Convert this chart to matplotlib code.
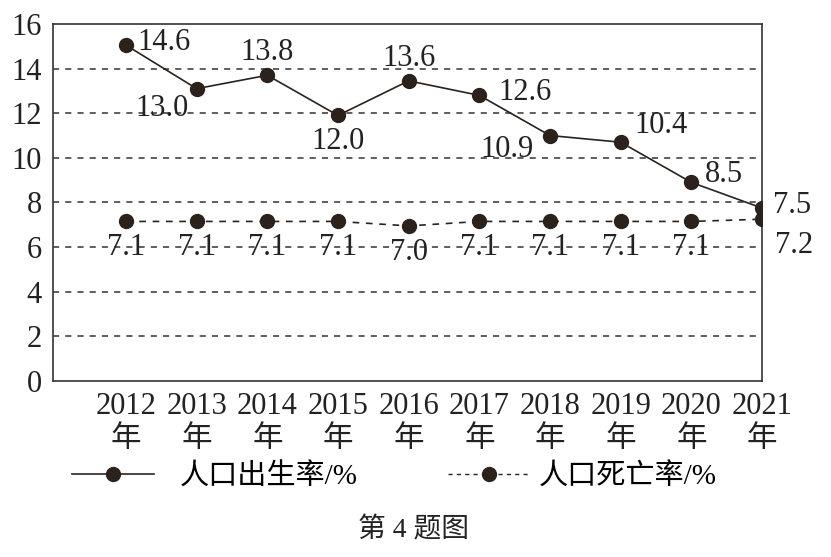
import numpy as np
import matplotlib
matplotlib.use('Agg')
import matplotlib.pyplot as plt
from matplotlib.lines import Line2D

plt.rcParams['font.family'] = ['Liberation Serif', 'Noto Sans CJK SC']

#---------------------------------- DATA -----------------------------------
years = [2012, 2013, 2014, 2015, 2016, 2017, 2018, 2019, 2020, 2021]
xlabels = [str(y) + '\n年' for y in years]
birth = [15.05, 13.1, 13.7, 11.9, 13.45, 12.8, 11.0, 10.7, 8.9, 7.75]
death = [7.15, 7.15, 7.15, 7.15, 6.95, 7.15, 7.15, 7.15, 7.15, 7.25]
birth_lbl = ['14.6', '13.0', '13.8', '12.0', '13.6', '12.6', '10.9', '10.4', '8.5', '7.5']
death_lbl = ['7.1', '7.1', '7.1', '7.1', '7.0', '7.1', '7.1', '7.1', '7.1', '7.2']
yticks = [0, 2, 4, 6, 8, 10, 12, 14, 16]

c = '#2b221c'
fs = 22

fig = plt.figure(figsize=(8.31, 5.57), dpi=100)
ax = fig.add_axes([0.064, 0.316, 0.853, 0.641])

for yy in yticks[1:-1]:
    ax.axhline(yy, color='#333333', lw=1.1, ls=(0, (4, 4)), zorder=1)

ax.plot(years, birth, '-', color=c, lw=1.2, marker='o', ms=10, zorder=3)
ax.plot(years, death, '--', color=c, lw=1.2, marker='o', ms=10, dashes=(4, 4), zorder=3)

# label offsets (points) for birth labels
boff = [(8, 2, 'left', 'center'), (-6, -4, 'right', 'top'), (0, 6, 'center', 'bottom'),
        (0, -8, 'center', 'top'), (0, 6, 'center', 'bottom'), (14, 2, 'left', 'center'),
        (-12, -10, 'right', 'center'), (10, 12, 'left', 'center'), (10, 6, 'left', 'center'),
        (8, 2, 'left', 'center')]
for x, y, t, (dx, dy, ha, va) in zip(years, birth, birth_lbl, boff):
    ax.annotate(t, (x, y), xytext=(dx, dy), textcoords='offset points',
                ha=ha, va=va, fontsize=fs, color='#222222', annotation_clip=False)
for i, (x, y, t) in enumerate(zip(years, death, death_lbl)):
    if i == len(years) - 1:
        ax.annotate(t, (x, y), xytext=(9, -19), textcoords='offset points',
                    ha='left', va='center', fontsize=fs, color='#222222', annotation_clip=False)
    else:
        ax.annotate(t, (x, y), xytext=(0, -19), textcoords='offset points',
                    ha='center', va='center', fontsize=fs, color='#222222')

ax.set_xlim(2010.97, 2021)
ax.set_ylim(0, 16)
ax.set_xticks(years)
ax.set_xticklabels(xlabels, fontsize=fs, linespacing=1.2)
ax.set_yticks(yticks)
ax.set_yticklabels([str(v) for v in yticks], fontsize=fs)
ax.tick_params(length=0, pad=8, colors='#222222')
ax.tick_params(axis='y', pad=8)
for s in ax.spines.values():
    s.set_color('#333333')
    s.set_linewidth(1.2)

# two separate legends
h1 = Line2D([], [], color=c, lw=1.2, marker='o', ms=10)
h2 = Line2D([], [], color=c, lw=1.0, ls='--', dashes=(3, 3), marker='o', ms=10)
leg1 = fig.legend([h1], ['人口出生率/%'], loc='center left', bbox_to_anchor=(0.0866, 0.1436),
                  frameon=False, fontsize=21, handlelength=2.8, handletextpad=0.9,
                  borderpad=0, borderaxespad=0)
leg2 = fig.legend([h2], ['人口死亡率/%'], loc='center left', bbox_to_anchor=(0.539, 0.1436),
                  frameon=False, fontsize=21, handlelength=2.8, handletextpad=0.3,
                  borderpad=0, borderaxespad=0)

fig.text(0.497, 0.048, '第 4 题图', ha='center', va='center', fontsize=20, color='#222222')

fig.savefig('out.png', dpi=100)
